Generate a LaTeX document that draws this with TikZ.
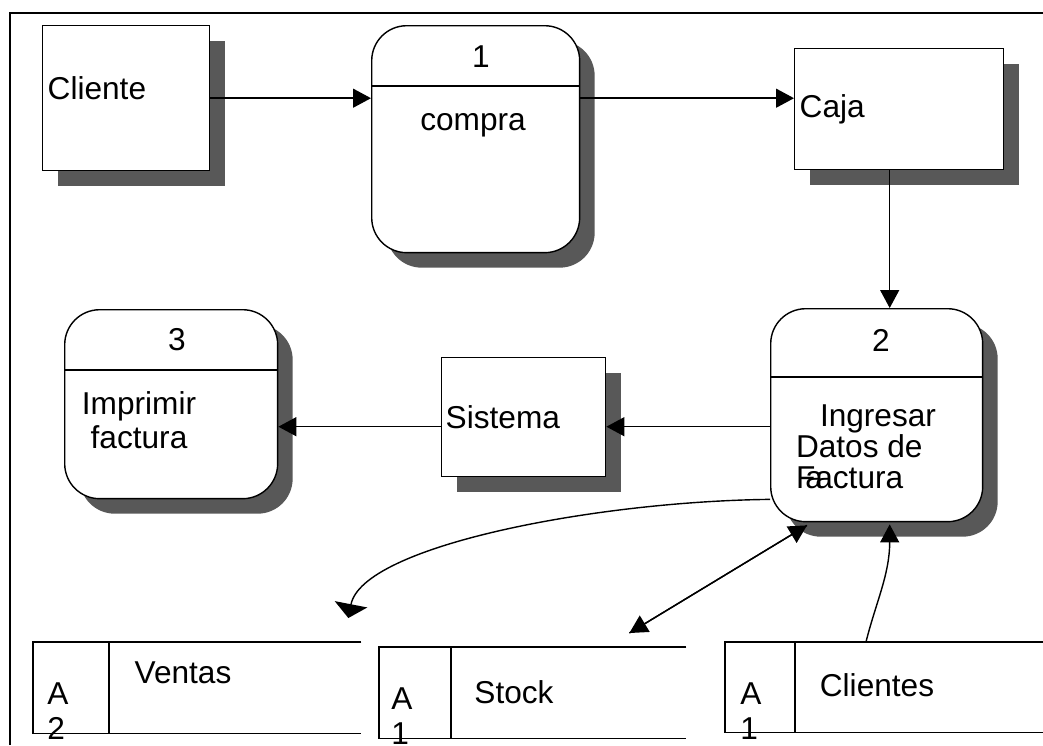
\documentclass[tikz,border=0pt]{standalone}
\usepackage{fontspec}
\setmainfont{Liberation Sans}
\usetikzlibrary{arrows.meta,shadows,calc}

\definecolor{shadowgray}{RGB}{88,88,88}

\tikzset{
  every node/.style={font=\fontsize{18}{19}\selectfont},
  ent/.style={draw, fill=white, anchor=north west, inner xsep=0.1cm, align=left,
    drop shadow={shadow xshift=0.3cm, shadow yshift=-0.3cm, fill=shadowgray, opacity=1}},
  proc/.style={draw, fill=white, rounded corners=0.7cm, anchor=north west,
    drop shadow={shadow xshift=0.3cm, shadow yshift=-0.3cm, fill=shadowgray, opacity=1}},
  store/.style={anchor=north west, inner sep=0pt},
  flow/.style={-{Triangle[length=0.36cm,width=0.38cm]}},
  flat/.style={-{Triangle[length=0.28cm,width=0.66cm]}}
}

\begin{document}
\begin{tikzpicture}[x=0.02cm,y=-0.02cm,line width=0.8pt]
\useasboundingbox (0,0) rectangle (1043,745);

% Frame
\draw (10,745) -- (10,13) -- (1043,13);

% Entities
\node[ent, minimum height=2.9cm, text width=3.14cm] (cliente) at (42,25) {\raisebox{0.4cm}{Cliente}};
\node[ent, minimum height=2.42cm, text width=3.98cm] (caja) at (794,48) {Caja};
\node[ent, minimum height=2.38cm, text width=3.12cm, inner xsep=0.08cm] (sistema) at (441,357) {Sistema};

% Processes
\node[proc, minimum width=4.16cm, minimum height=4.54cm] (p1) at (371,25) {};
\draw ([yshift=-1.22cm]p1.north west) -- ([yshift=-1.22cm]p1.north east);
\node (n1) at (481,57) {1};
\node (t1) at (473,125) {compra};

\node[proc, minimum width=4.24cm, minimum height=4.26cm] (p2) at (770,308) {};
\draw ([yshift=-1.38cm]p2.north west) -- ([yshift=-1.38cm]p2.north east);
\node (n2) at (881,340) {2};
\node[align=left, font=\fontsize{18}{17.6}\selectfont] (t2) at (866,447)
  {\hspace*{0.48cm}Ingresar\\Datos de\\\rlap{\hspace{0.3em}a}Factura};

\node[proc, minimum width=4.26cm, minimum height=3.78cm] (p3) at (64,309) {};
\draw ([yshift=-1.22cm]p3.north west) -- ([yshift=-1.22cm]p3.north east);
\node (n3) at (177,340) {3};
\node[align=center] (t3) at (139,420) {Imprimir\\factura};

% Data stores
\node[store, minimum width=6.54cm, minimum height=1.8cm] (ventas) at (33,642) {};
\draw (ventas.north east) -- (ventas.north west) -- (ventas.south west) -- (ventas.south east);
\draw ([xshift=1.52cm]ventas.north west) -- ([xshift=1.52cm]ventas.south west);
\node[align=left, font=\fontsize{18}{20}\selectfont] (idv) at (58,711) {A\\2};
\node (tv) at (183,673) {Ventas};

\node[store, minimum width=6.12cm, minimum height=1.8cm] (stock) at (379,647) {};
\draw (stock.north east) -- (stock.north west) -- (stock.south west) -- (stock.south east);
\draw ([xshift=1.44cm]stock.north west) -- ([xshift=1.44cm]stock.south west);
\node[align=left, font=\fontsize{18}{20}\selectfont] (ids) at (402,716) {A\\1};
\node (ts) at (514,692) {Stock};

\node[store, minimum width=6.4cm, minimum height=1.78cm] (clientes) at (725,642) {};
\draw (clientes.north east) -- (clientes.north west) -- (clientes.south west) -- (clientes.south east);
\draw ([xshift=1.4cm]clientes.north west) -- ([xshift=1.4cm]clientes.south west);
\node[align=left, font=\fontsize{18}{20}\selectfont] (idc) at (751,711) {A\\1};
\node (tc) at (877,685) {Clientes};

% Flows
\draw[flow] (cliente.east) -- (cliente.east -| p1.west);
\draw[flow] (cliente.east -| p1.east) -- (cliente.east -| caja.west);
\draw[flow] ([xshift=-0.19cm]caja.south) -- ([xshift=-0.19cm]caja.south |- p2.north);

\coordinate (s2) at ([yshift=-0.19cm]sistema.east);
\coordinate (s3) at ([yshift=-0.19cm]sistema.west);
\draw[flow] (s2 -| p2.west) -- (s2);
\draw[flow] (s3) -- (s3 -| p3.east);

\coordinate (a) at ([yshift=0.46cm]p2.south west);
\coordinate (b) at ([xshift=-0.26cm,yshift=0.48cm]ventas.north east);
\draw[flat] (a) .. controls ($(a)+(-175,2)$) and ($(b)+(14,-72)$) .. (b);

\draw[flow] ([xshift=0.74cm,yshift=-0.06cm]p2.south west) -- ([xshift=-1.14cm,yshift=0.28cm]stock.north east);
\draw[flow] ([xshift=-1.14cm,yshift=0.28cm]stock.north east) -- ([xshift=0.74cm,yshift=-0.06cm]p2.south west);

\coordinate (c) at ([xshift=2.82cm]clientes.north west);
\coordinate (d) at ([xshift=0.26cm,yshift=-0.04cm]p2.south);
\draw[flow] (c) .. controls ($(c)+(10,-40)$) and ($(d)+(0,50)$) .. (d);

\end{tikzpicture}
\end{document}
